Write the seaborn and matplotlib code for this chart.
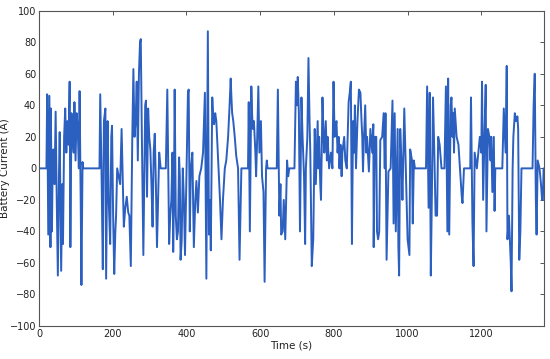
import numpy as np
import pandas as pd
import matplotlib
matplotlib.use("Agg")
import matplotlib.pyplot as plt
import seaborn as sns

# battery current (time in s, current in A)
time_s = [
    0, 20, 22, 25, 28, 31, 32, 35, 37, 39, 42, 45, 48, 51, 54, 56, 60, 63, 65, 68,
    71, 74, 77, 80, 83, 85, 88, 91, 94, 96, 99, 102, 105, 108, 110, 113, 115, 118, 120,
    164, 166, 170, 173, 176, 180, 182, 186, 189, 193, 196, 198, 201, 204, 207, 209, 212,
    216, 220, 224, 227, 230, 234, 238, 242, 245, 249, 253, 256, 259, 262, 265, 268, 271,
    274, 276, 279, 283, 286, 288, 290, 293, 296, 299, 302, 305, 308, 311, 314, 317, 320,
    323, 326, 330, 344,
    348, 351, 353, 356, 359, 362, 364, 366, 368, 371, 374, 377, 380, 382, 384, 387, 390,
    393, 396, 399, 404, 406, 409, 412, 416, 420, 424, 427, 431, 435, 440, 445, 450, 454,
    458, 461, 464, 466, 470, 473, 475, 478, 481, 484, 488, 491, 495, 499, 504, 508, 513,
    517, 520, 522, 524, 527, 531, 535, 540, 544, 549, 567,
    569, 572, 576, 578, 580, 583, 585, 587, 589, 592, 595, 598, 602, 605, 609, 612, 616,
    618, 620, 645,
    648, 650, 652, 655, 657, 661, 664, 668, 673, 676, 679, 693,
    697, 700, 702, 705, 708, 712, 715, 719, 722, 724, 728, 731, 734, 736, 740, 744, 748,
    751, 756, 758, 760, 763, 765, 767, 769, 772, 774, 778, 781, 783, 787, 792, 796, 799,
    802, 804, 807, 810, 813, 815, 818, 821, 823, 828, 831, 835, 840, 843, 846, 849, 852,
    855, 857, 860, 864, 868, 872, 875, 877, 879, 881, 885, 888, 890, 895, 899, 904, 907,
    908, 911, 915, 917, 920, 923, 926, 931, 935, 938, 940, 943, 948, 954, 959, 962, 965,
    968, 973, 975, 977, 980, 984, 986, 991, 995, 1000, 1005, 1007, 1012, 1014, 1017,
    1020, 1050,
    1053, 1057, 1060, 1063, 1066, 1069, 1073, 1076, 1080, 1083, 1087, 1092, 1100, 1104,
    1108, 1110, 1113, 1117, 1119, 1122, 1124, 1126, 1128, 1133, 1138, 1142, 1147, 1149,
    1153, 1170,
    1172, 1176, 1179, 1182, 1188, 1196, 1200, 1202, 1205, 1209, 1212, 1214, 1218, 1222,
    1225, 1227, 1230, 1234, 1236, 1238, 1257,
    1261, 1266, 1269, 1271, 1275, 1280, 1282, 1285, 1287, 1291, 1294, 1298, 1300, 1303,
    1306, 1309, 1339,
    1342, 1345, 1348, 1350, 1353, 1358, 1362, 1365, 1367, 1369,
]
current_a = [
    0, 0, 47, -42, 46, -50, 38, -40, 5, 12, -10, 36, -20, -68, -5, 23, -65, -10, -48, 20,
    38, 10, 30, 15, 55, -50, 35, 20, 10, 42, 5, 35, 25, 0, 49, -20, -74, 4, 0,
    0, 47, -10, -64, 30, 38, -70, 30, -20, -48, 20, 27, -30, -67, -40, -30, 0,
    -5, -10, 25, -5, -37, -25, -18, -28, -30, -62, 20, 63, 20, 30, 55, 5, 60,
    80, 82, 20, -55, 0, 40, 43, -18, 38, 20, 12, -10, -37, 10, 22, -10, -50,
    -20, 10, 0, 0,
    50, -10, -48, -30, -20, 10, -53, -20, 50, -30, -45, -40, 7, -5, -58, -46, 0,
    -20, -55, -15, 48, 50, -40, 0, 10, -50, -20, -8, -28, -5, 0, 10, 48, -70,
    87, -42, -20, -52, 45, 30, 28, 35, 30, 15, -5, -20, -45, -20, 0, 5, 20,
    40, 57, 45, 35, 30, 20, 8, 0, -58, 0, 0,
    42, -40, 52, 35, 25, 30, 20, 10, -5, 20, 52, 10, 30, -5, -15, -72, 0,
    5, 0, 0,
    50, 10, -30, -10, -42, -40, -20, -45, 5, -5, 0, 0,
    55, 40, 58, 35, -40, 45, 20, -5, -48, 0, 20, 70, 30, 10, -62, -45, 25,
    -10, 30, 0, 20, -10, -20, 10, 45, 20, 10, 30, 5, 20, 0, 10, 0, 55,
    20, 25, 30, 10, 20, 0, 15, -5, 10, 20, 5, 0, 42, 48, 55, -48, 30,
    10, 40, 0, 30, 50, 48, 30, 20, -2, 15, 40, 10, 20, -2, 25, 10, 28,
    -50, 20, 20, -40, -45, -40, 18, 20, 35, 0, 35, -58, -2, 0, 43, -35, 35,
    -40, 25, -50, -68, 25, 0, -20, 38, 0, -45, -55, 12, 5, -35, 5,
    0, 0,
    52, -25, 48, -68, -15, 45, 5, -30, -30, 20, 15, 0, 0, 52,
    -40, 57, -42, 40, 45, 20, 35, 10, 38, 20, 15, 0, -18, -22,
    0, 0,
    45, -35, -62, 10, 0, 20, 10, 55, -20, 25, 53, -40, 25, 20,
    5, 20, -15, 20, -27, 0, 0,
    38, 10, 65, -45, -30, -60, -78, 0, 20, 35, 30, 33, 25, -58,
    -40, 0, 0,
    40, 60, -20, -42, 5, 0, -10, -20, -20, 0,
]

df = pd.DataFrame({"Time": time_s, "Current": current_a})

sns.set_style("white")
plt.rcParams["font.family"] = ["DejaVu Sans"]

fig = plt.figure(figsize=(5.5, 3.59), dpi=100)
ax = fig.add_axes([0.071, 0.092, 0.918, 0.878])

sns.lineplot(data=df, x="Time", y="Current", estimator=None, sort=False,
             color="#2b5fc0", linewidth=1.4, ax=ax)

ax.set_xlim(0, 1370)
ax.set_ylim(-100, 100)
ax.set_xticks(np.arange(0, 1201, 200))
ax.set_yticks(np.arange(-100, 101, 20))
ax.set_xlabel("Time (s)", fontsize=7.5, color="#222222", labelpad=1)
ax.set_ylabel("Battery Current (A)", fontsize=7.5, color="#222222", labelpad=0)

for s in ax.spines.values():
    s.set_visible(True)
    s.set_color("#555555")
    s.set_linewidth(0.8)
ax.tick_params(direction="in", top=True, right=True, length=3, width=0.7,
               labelsize=7, colors="#555555", labelcolor="#222222", pad=2)

fig.savefig("out.png", dpi=100)
